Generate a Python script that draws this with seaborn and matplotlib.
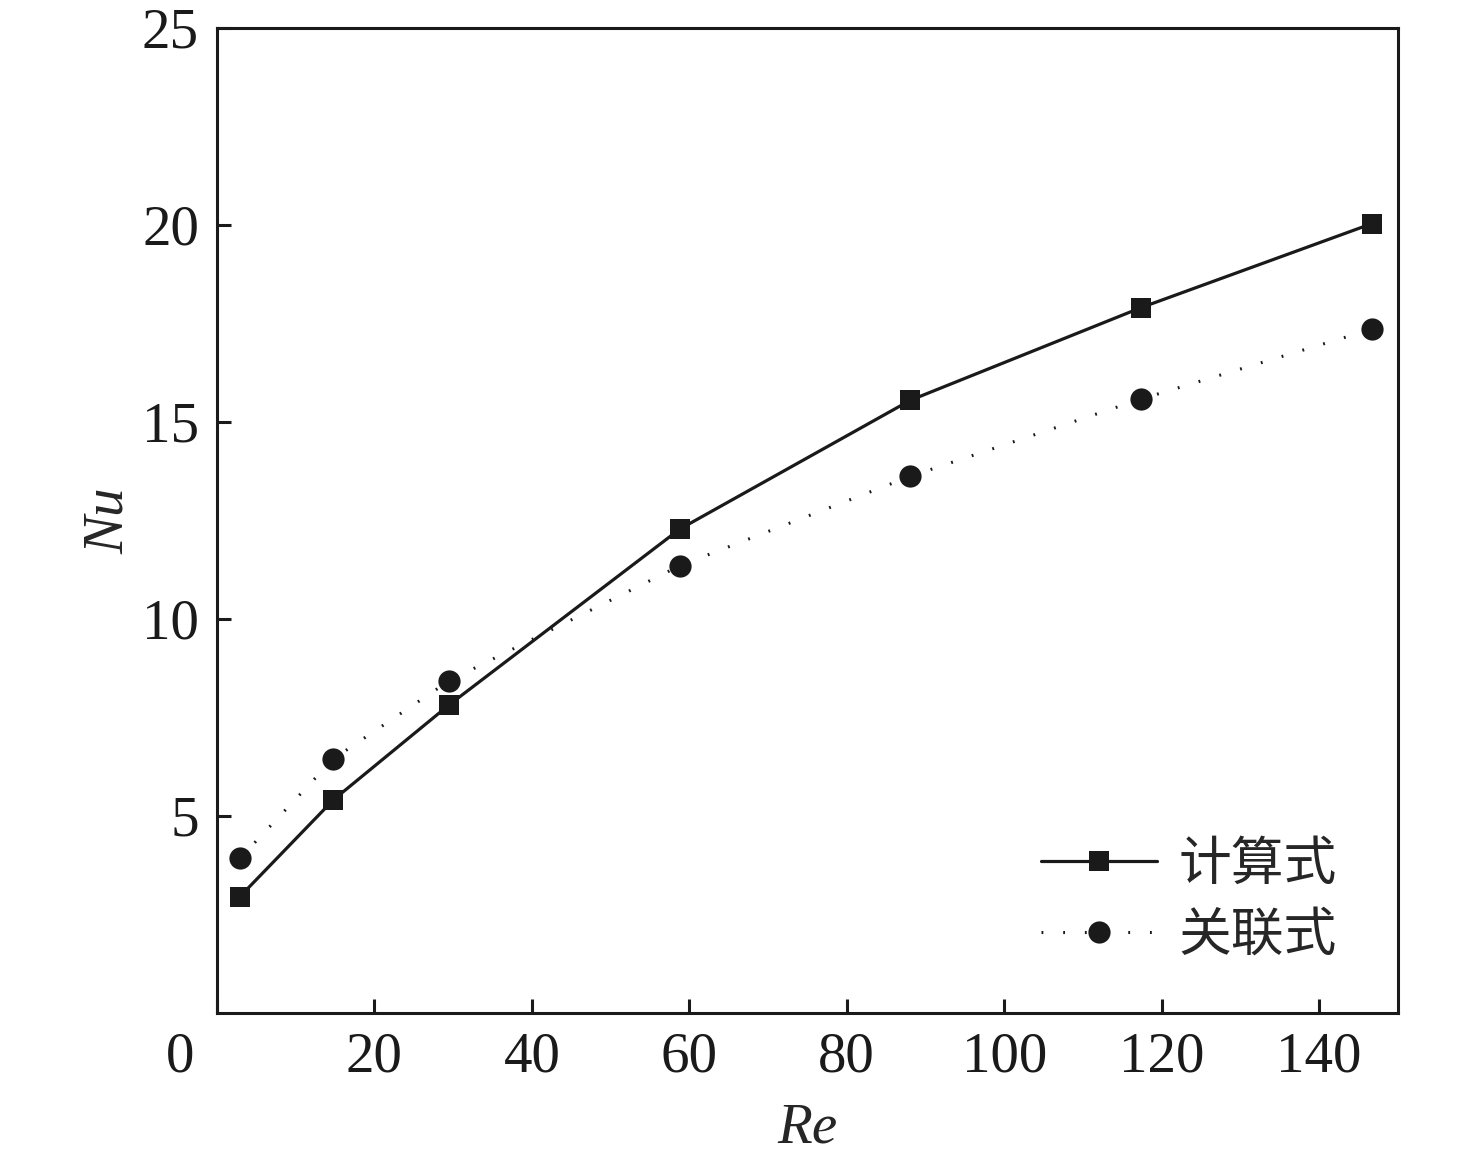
import numpy as np
import pandas as pd
import matplotlib
matplotlib.use('Agg')
import matplotlib.pyplot as plt
import matplotlib.transforms as mtransforms
import seaborn as sns

# 数据
re_vals = [2.9, 14.8, 29.5, 58.8, 88.1, 117.4, 146.7]
nu_calc = [2.95, 5.41, 7.82, 12.28, 15.55, 17.9, 20.03]
nu_corr = [3.92, 6.45, 8.43, 11.35, 13.62, 15.58, 17.35]
series_names = ['计算式', '关联式']
x_ticks = [0, 20, 40, 60, 80, 100, 120, 140]
y_ticks = [5, 10, 15, 20, 25]

sns.set_theme(style='ticks')
plt.rcParams['font.family'] = ['Liberation Serif', 'Noto Sans CJK SC', 'DejaVu Sans']

df = pd.DataFrame({'Re': re_vals + re_vals,
                   'Nu': nu_calc + nu_corr,
                   'kind': [series_names[0]] * len(re_vals) + [series_names[1]] * len(re_vals)})

fig = plt.figure(figsize=(14.76, 11.59), dpi=100)
ax = fig.add_axes([0.147, 0.126, 0.8, 0.85])

sns.lineplot(data=df[df['kind'] == series_names[0]], x='Re', y='Nu', ax=ax,
             color='#1a1a1a', marker='s', markersize=14, markeredgewidth=0,
             linewidth=2.3, label=series_names[0])
sns.lineplot(data=df[df['kind'] == series_names[1]], x='Re', y='Nu', ax=ax,
             color='#1a1a1a', marker='o', markersize=16, markeredgewidth=0,
             linewidth=2.2, linestyle=(0, (0.6, 6.5)), label=series_names[1])

ax.set_xlim(0, 150)
ax.set_ylim(0, 25)
ax.set_xticks(x_ticks)
ax.set_yticks(y_ticks)
ax.tick_params(direction='in', length=10, width=2.2, labelsize=41, pad=13,
               colors='#1a1a1a')
for sp in ax.spines.values():
    sp.set_linewidth(2.2)
    sp.set_color('#1a1a1a')

# 原点的 0 移到左下角
zero_lab = ax.get_xticklabels()[0]
zero_lab.set_transform(zero_lab.get_transform() +
                       mtransforms.ScaledTranslation(-0.37, 0, fig.dpi_scale_trans))

ax.set_xlabel('Re', fontsize=41, fontstyle='italic', labelpad=14)
ax.set_ylabel('Nu', fontsize=41, fontstyle='italic', labelpad=5)

leg = ax.legend(loc='lower right', bbox_to_anchor=(0.966, 0.03), frameon=False,
                fontsize=38, handlelength=2.2, handletextpad=0.4,
                labelspacing=0.3, borderaxespad=0)
for t in leg.get_texts():
    t.set_family(['Noto Sans CJK SC', 'DejaVu Sans'])

fig.savefig('out.png', dpi=100)
